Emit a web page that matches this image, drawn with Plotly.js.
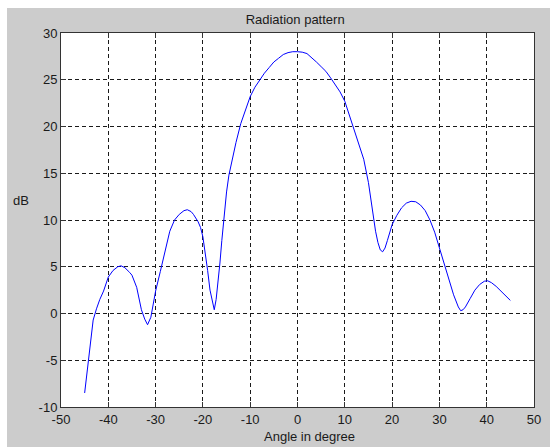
<!DOCTYPE html>
<html>
<head>
<meta charset="utf-8">
<script src="https://cdn.plot.ly/plotly-3.0.1.min.js"></script>
<style>
  html, body { margin: 0; padding: 0; background: #ffffff; }
  #wrap { position: relative; width: 550px; height: 447px; background: #ffffff; overflow: hidden; }
  #chart { position: absolute; left: 7px; top: 8px; width: 543px; height: 439px; }
</style>
</head>
<body>
<div id="wrap"><div id="chart"></div></div>
<script>
const angle = [-45, -44.2, -43.2, -42.5, -41.8, -41, -40, -39, -38, -37.3, -36.5, -35.5, -35, -34, -33, -32.3, -31.7, -31, -30.5, -30,
  -29, -28, -27, -26, -25, -24, -23.3, -22.5, -22, -21, -20.5, -20, -19.5, -19, -18.5, -18, -17.6, -17.2, -16.8, -16.4,
  -16, -15.5, -15, -14.5, -14, -13, -12, -11, -10, -9, -8, -7, -6, -5, -4, -3, -2, -1, 0, 1,
  2, 3, 4, 5, 6, 7, 8, 9, 10, 11, 12, 13, 14, 15, 16, 16.5, 17, 17.5, 18, 18.5,
  19, 19.5, 20, 21, 22, 23, 24, 25, 26, 27, 28, 29, 30, 31, 32, 33, 34, 34.5, 35, 35.5,
  36.5, 37.5, 38.5, 39.5, 40.2, 41, 42, 43, 44, 45];
const dB = [-8.5, -5, -0.7, 0.5, 1.5, 2.4, 3.9, 4.6, 5.0, 5.1, 4.9, 4.4, 4.1, 2.8, 0.4, -0.6, -1.2, -0.4, 1.0, 2.4,
  4.5, 6.8, 8.8, 10.0, 10.6, 11.0, 11.1, 10.9, 10.6, 9.8, 9.2, 8.2, 6.5, 4.6, 2.5, 1.2, 0.4, 1.5, 3.2, 5.4,
  7.8, 10.5, 13.0, 14.8, 16.0, 18.3, 20.3, 21.8, 23.2, 24.2, 25.0, 25.7, 26.3, 26.9, 27.3, 27.7, 27.9, 28.0, 28.0, 27.95,
  27.8, 27.4, 26.9, 26.4, 25.9, 25.2, 24.5, 23.7, 22.7, 21.2, 19.6, 18.0, 16.5, 14.0, 10.3, 8.8, 7.6, 6.8, 6.6, 7.0,
  7.8, 8.7, 9.5, 10.5, 11.3, 11.8, 12.0, 11.95, 11.6, 11.0, 10.0, 8.7, 7.0, 5.2, 3.5, 2.0, 0.7, 0.3, 0.4, 0.7,
  1.6, 2.5, 3.1, 3.45, 3.5, 3.3, 2.9, 2.4, 1.8, 1.4];

const xTicks = [-50, -40, -30, -20, -10, 0, 10, 20, 30, 40, 50];
const yTicks = [-10, -5, 0, 5, 10, 15, 20, 25, 30];

const titleText = 'Radiation pattern';
const xLabel = 'Angle in degree';
const yLabel = 'dB';

const fontFam = '"Liberation Sans", Arial, Helvetica, sans-serif';
const axisCommon = {
  showgrid: true,
  gridcolor: '#1a1a1a',
  gridwidth: 1,
  griddash: '4px,3px',
  zeroline: false,
  showline: true,
  linecolor: '#333333',
  linewidth: 1,
  mirror: 'ticks',
  ticks: 'inside',
  ticklen: 5,
  tickcolor: '#333333',
  tickfont: { family: fontFam, size: 13, color: '#1a1a1a' },
  fixedrange: true
};

const trace = {
  x: angle,
  y: dB,
  type: 'scatter',
  mode: 'lines',
  line: { color: '#0000ff', width: 1 },
  hoverinfo: 'skip'
};

const layout = {
  width: 543,
  height: 439,
  paper_bgcolor: '#cccccc',
  plot_bgcolor: '#ffffff',
  margin: { l: 54, r: 16, t: 25, b: 40 },
  showlegend: false,
  title: {
    text: titleText,
    font: { family: fontFam, size: 13, color: '#1a1a1a' },
    x: 0.495, xref: 'paper', xanchor: 'center',
    y: 0.973, yref: 'container', yanchor: 'middle'
  },
  xaxis: Object.assign({}, axisCommon, {
    range: [-50, 50],
    tickmode: 'array',
    tickvals: xTicks,
    ticktext: xTicks.map(String)
  }),
  yaxis: Object.assign({}, axisCommon, {
    range: [-10, 30],
    tickmode: 'array',
    tickvals: yTicks,
    ticktext: yTicks.map(String)
  }),
  annotations: [
    {
      text: xLabel, xref: 'paper', yref: 'paper',
      x: 0.526, y: -0.080, xanchor: 'center', yanchor: 'middle',
      showarrow: false, font: { family: fontFam, size: 13, color: '#1a1a1a' }
    },
    {
      text: yLabel, xref: 'paper', yref: 'paper',
      x: -0.0846, y: 0.553, xanchor: 'center', yanchor: 'middle',
      showarrow: false, font: { family: fontFam, size: 13, color: '#1a1a1a' }
    }
  ]
};

Plotly.newPlot('chart', [trace], layout, { displayModeBar: false, staticPlot: true });
</script>
</body>
</html>
